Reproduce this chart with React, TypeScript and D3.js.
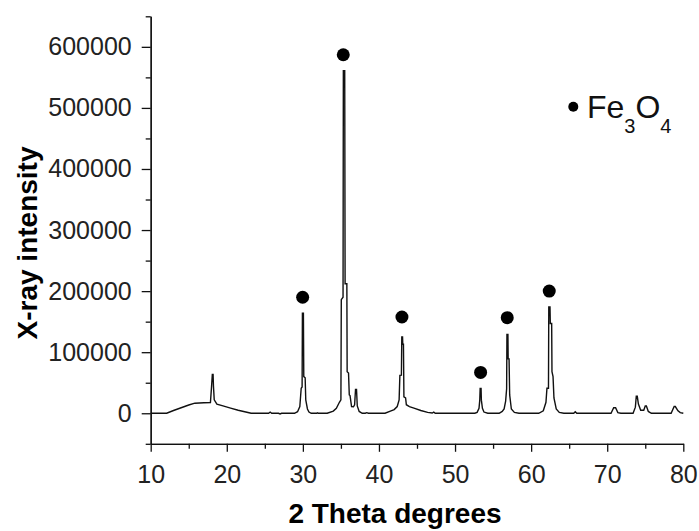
import React, { useEffect, useRef } from "react";
import * as d3 from "d3";

const WIDTH = 699;
const HEIGHT = 531;

// XRD scan: [2 theta, intensity]
const scan: [number, number][] = [
  [10, 0], [12.1, 0], [13, 4500], [14, 9000], [15, 13500], [15.8, 16500],
  [17, 17200], [17.85, 17500], [18.0, 44000], [18.1, 63600], [18.2, 63600],
  [18.25, 44000], [18.35, 22000], [18.7, 15000], [19.5, 12000], [20.5, 8500],
  [21.5, 5000], [22.5, 2000], [23.2, 0], [25.5, 0], [25.7, 2000], [25.9, 0],
  [26.8, 0], [27.0, -1200], [27.2, 0], [28.9, 0], [29.3, 2500], [29.6, 11000],
  [29.78, 41000], [29.9, 43000], [29.94, 164000], [30.07, 164000],
  [30.12, 60000], [30.3, 58000], [30.38, 22000], [30.6, 7000], [30.8, 2000],
  [31.1, 0], [31.8, 0], [31.9, 800], [32.0, 0], [33.2, 0], [34.0, 3500],
  [34.4, 8000], [34.8, 18000], [35.0, 22000], [35.05, 186000], [35.28, 190000],
  [35.32, 561000], [35.5, 561000], [35.55, 212000], [35.78, 212000],
  [35.82, 68000], [36.0, 66000], [36.1, 30000], [36.2, 29000], [36.4, 11000],
  [36.65, 10500], [36.8, 14000], [36.92, 39000], [37.05, 39000], [37.15, 12000],
  [37.4, 3000], [37.8, 0], [38.2, 0], [38.4, 1000], [38.6, 0], [40.8, 0],
  [41.5, 3500], [42.0, 6000], [42.4, 11000], [42.65, 22000], [42.75, 62000],
  [42.95, 62500], [43.0, 125000], [43.1, 125000], [43.13, 113000],
  [43.22, 113000], [43.28, 27000], [43.5, 25000], [43.6, 14000], [44.0, 11000],
  [44.6, 8500], [45.5, 4500], [46.4, 1500], [47.0, 400], [47.2, 1800],
  [47.4, 0], [52.6, 0], [52.9, 1500], [53.15, 8000], [53.25, 21500],
  [53.3, 40800], [53.42, 40800], [53.46, 21500], [53.6, 8000], [53.8, 2000],
  [54.3, 0], [55.8, 0], [56.2, 3000], [56.45, 7000], [56.65, 20000],
  [56.78, 40000], [56.82, 129000], [56.95, 129000], [56.98, 89000],
  [57.1, 89000], [57.18, 30000], [57.4, 7000], [57.8, 1500], [58.4, 0],
  [61.0, 0], [61.6, 4000], [61.95, 18000], [62.08, 41000], [62.28, 41000],
  [62.32, 174000], [62.48, 174000], [62.52, 147000], [62.7, 147000],
  [62.74, 68000], [62.88, 60000], [63.0, 25000], [63.3, 7000], [63.7, 1500],
  [64.3, 0], [65.6, 0], [65.8, 2500], [66.0, 0], [70.5, 0], [70.85, 9000],
  [71.1, 9000], [71.4, 1000], [71.8, 0], [73.4, 0], [73.7, 10000],
  [73.82, 28000], [73.95, 28000], [74.1, 15000], [74.4, 5000], [74.8, 5000],
  [75.0, 12000], [75.15, 12000], [75.4, 3000], [75.8, 0], [78.4, 0],
  [78.8, 11000], [78.95, 11000], [79.3, 4000], [79.6, 1000], [80.0, 0],
];

// Fe3O4 reflections marked with a dot
const markTheta = [29.97, 35.31, 43.02, 53.36, 56.86, 62.38];
const markHeight = [190000, 587000, 157600, 66900, 156600, 200000];

const xTicks = [10, 20, 30, 40, 50, 60, 70, 80];
const xMinor = [15, 25, 35, 45, 55, 65, 75];
const yTicks = [0, 100000, 200000, 300000, 400000, 500000, 600000];
const yMinor = [-50000, 50000, 150000, 250000, 350000, 450000, 550000, 650000];

const FONT = "'Liberation Sans', Arial, sans-serif";

export default function App() {
  const svgRef = useRef<SVGSVGElement>(null);

  const x = d3.scaleLinear().domain([10, 80]).range([150.7, 683.3]);
  const y = d3.scaleLinear().domain([-50000, 650000]).range([443.8, 16.3]);

  useEffect(() => {
    const svg = d3.select(svgRef.current);
    svg.selectAll(".axis").remove();

    const left = svg.append("g").attr("class", "axis").attr("transform", `translate(${x(10)},0)`);
    left.call(
      d3.axisLeft(y).tickValues(yTicks).tickSize(9).tickPadding(10).tickSizeOuter(0).tickFormat(d3.format("d"))
    );
    const leftMinor = svg.append("g").attr("class", "axis").attr("transform", `translate(${x(10)},0)`);
    leftMinor.call(d3.axisLeft(y).tickValues(yMinor).tickSize(5).tickFormat(() => "").tickSizeOuter(0));

    const bottom = svg.append("g").attr("class", "axis").attr("transform", `translate(0,${y(-50000)})`);
    bottom.call(d3.axisBottom(x).tickValues(xTicks).tickSize(8).tickPadding(13).tickSizeOuter(0));
    const bottomMinor = svg.append("g").attr("class", "axis").attr("transform", `translate(0,${y(-50000)})`);
    bottomMinor.call(d3.axisBottom(x).tickValues(xMinor).tickSize(5).tickFormat(() => "").tickSizeOuter(0));

    svg.selectAll(".axis path, .axis line").attr("stroke", "#111").attr("stroke-width", 1.3);
    svg.selectAll(".axis text")
      .attr("font-family", FONT)
      .attr("font-size", 25)
      .attr("fill", "#222");
  }, []);

  const line = d3
    .line<[number, number]>()
    .x((d) => x(d[0]))
    .y((d) => y(d[1]));

  return (
    <svg
      ref={svgRef}
      width={WIDTH}
      height={HEIGHT}
      style={{ position: "absolute", left: 0, top: 0, background: "#fff" }}
    >
      <path d={line(scan) ?? ""} fill="none" stroke="#111" strokeWidth={1.4} />
      {markTheta.map((t, i) => (
        <circle key={t} cx={x(t)} cy={y(markHeight[i])} r={6.5} fill="#000" />
      ))}

      <circle cx={573.3} cy={106.7} r={5} fill="#000" />
      <text x={587} y={118} fontFamily={FONT} fontSize={32} fill="#111">
        Fe
        <tspan fontSize={20} dy={15}>3</tspan>
        <tspan fontSize={32} dy={-15}>O</tspan>
        <tspan fontSize={20} dy={15}>4</tspan>
      </text>

      <text
        x={395}
        y={523}
        textAnchor="middle"
        fontFamily={FONT}
        fontWeight="bold"
        fontSize={28}
        fill="#000"
      >
        2 Theta degrees
      </text>
      <text
        transform={`translate(37,243) rotate(-90)`}
        textAnchor="middle"
        fontFamily={FONT}
        fontWeight="bold"
        fontSize={28}
        fill="#000"
      >
        X-ray intensity
      </text>
    </svg>
  );
}
